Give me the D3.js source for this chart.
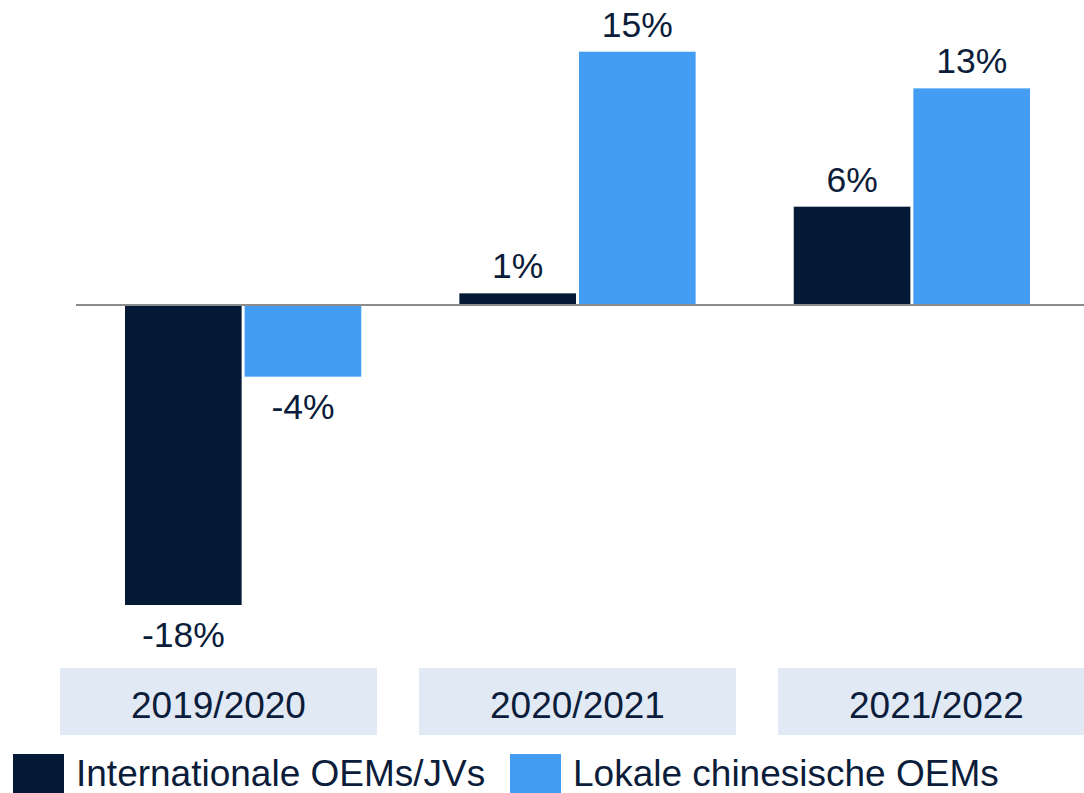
<!DOCTYPE html>
<html>
<head>
<meta charset="utf-8">
<script src="https://cdn.jsdelivr.net/npm/d3@7"></script>
<style>
  html, body { margin: 0; padding: 0; background: #ffffff; }
  svg { display: block; font-family: "Liberation Sans", Arial, sans-serif; }
</style>
</head>
<body>
<svg id="chart" width="1084" height="793"></svg>
<script>
const categories = ["2019/2020", "2020/2021", "2021/2022"];
const seriesNames = ["Internationale OEMs/JVs", "Lokale chinesische OEMs"];
const internationalValues = [-18.0, 0.7, 5.9];
const localValues = [-4.3, 15.2, 13.0];
const valueLabels = [["-18%", "1%", "6%"], ["-4%", "15%", "13%"]];

const colors = ["#031936", "#439EF3"];
const textColor = "#0B1D3A";

const svg = d3.select("#chart");
const W = 1084, H = 793;

const seriesValues = [internationalValues, localValues];

const x0 = d3.scaleBand().domain(categories).range([125, 1030]).paddingInner(98 / 334).paddingOuter(0);
const x1 = d3.scaleBand().domain(seriesNames).range([0, x0.bandwidth()]).paddingInner(0.0251).paddingOuter(0);
const y = d3.scaleLinear().domain([-18, 15.2]).range([605, 51.7]);

const xBox = d3.scaleBand().domain(categories).range([60, 60 + 359 * 3 - 42]).paddingInner(42 / 359).paddingOuter(0);

// category boxes
const boxG = svg.append("g");
boxG.selectAll("rect").data(categories).join("rect")
  .attr("x", d => xBox(d))
  .attr("y", 668)
  .attr("width", xBox.bandwidth())
  .attr("height", 67)
  .attr("fill", "#E1E9F5");
boxG.selectAll("text").data(categories).join("text")
  .attr("x", d => xBox(d) + xBox.bandwidth() / 2)
  .attr("y", 718)
  .attr("text-anchor", "middle")
  .attr("font-size", 37)
  .attr("fill", textColor)
  .text(d => d);

// bars
const data = [];
seriesNames.forEach((s, si) => {
  categories.forEach((c, ci) => {
    data.push({ s, si, c, v: seriesValues[si][ci], label: valueLabels[si][ci] });
  });
});

svg.append("g").selectAll("rect").data(data).join("rect")
  .attr("x", d => x0(d.c) + x1(d.s))
  .attr("width", x1.bandwidth())
  .attr("y", d => Math.min(y(d.v), y(0)))
  .attr("height", d => Math.abs(y(d.v) - y(0)))
  .attr("fill", d => colors[d.si]);

// baseline
svg.append("line")
  .attr("x1", 76).attr("x2", W)
  .attr("y1", y(0)).attr("y2", y(0))
  .attr("stroke", "#8C8C8C").attr("stroke-width", 2);

// value labels
svg.append("g").selectAll("text").data(data).join("text")
  .attr("x", d => x0(d.c) + x1(d.s) + x1.bandwidth() / 2)
  .attr("y", d => d.v >= 0 ? y(d.v) - 15 : y(d.v) + 42)
  .attr("text-anchor", "middle")
  .attr("font-size", 35.5)
  .attr("fill", textColor)
  .text(d => d.label);

// legend
const legendX = [13, 510];
const lg = svg.append("g").selectAll("g").data(seriesNames).join("g")
  .attr("transform", (d, i) => `translate(${legendX[i]},0)`);
lg.append("rect")
  .attr("x", 0).attr("y", 754)
  .attr("width", 51).attr("height", 39)
  .attr("fill", (d, i) => colors[i]);
lg.append("text")
  .attr("x", 63).attr("y", 786)
  .attr("font-size", 37)
  .attr("fill", textColor)
  .text(d => d);
</script>
</body>
</html>
